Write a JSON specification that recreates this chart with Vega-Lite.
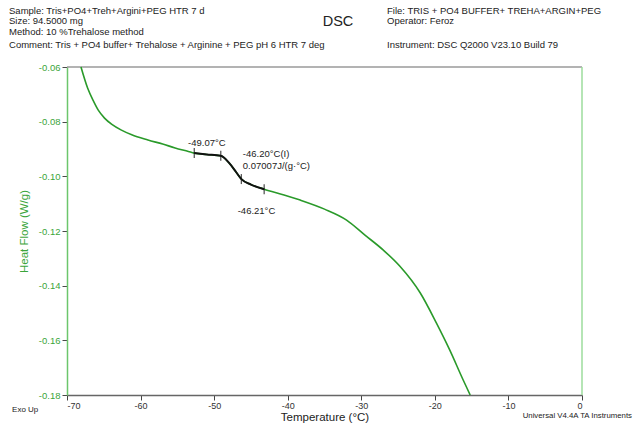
{
  "$schema": "https://vega.github.io/schema/vega-lite/v6.json",
  "width": 515,
  "height": 328,
  "autosize": {"type": "none"},
  "padding": {"left": 67, "top": 67, "right": 51, "bottom": 29},
  "background": "white",
  "config": {
    "view": {"stroke": null},
    "font": "Liberation Sans",
    "axis": {"labelFont": "Liberation Sans", "titleFont": "Liberation Sans", "grid": false}
  },
  "datasets": {
    "curve": [
      {"T": -68.1, "HF": -0.0600},
      {"T": -67.2, "HF": -0.0677},
      {"T": -66.4, "HF": -0.0725},
      {"T": -65.75, "HF": -0.0758},
      {"T": -64.9, "HF": -0.0787},
      {"T": -63.9, "HF": -0.0810},
      {"T": -62.6, "HF": -0.0831},
      {"T": -61.2, "HF": -0.0848},
      {"T": -59.0, "HF": -0.0867},
      {"T": -57.0, "HF": -0.0882},
      {"T": -55.3, "HF": -0.0896},
      {"T": -53.5, "HF": -0.0909},
      {"T": -52.7, "HF": -0.0915},
      {"T": -51.0, "HF": -0.0920},
      {"T": -49.1, "HF": -0.0925},
      {"T": -48.0, "HF": -0.0950},
      {"T": -47.0, "HF": -0.0985},
      {"T": -46.3, "HF": -0.1010},
      {"T": -45.0, "HF": -0.1030},
      {"T": -43.2, "HF": -0.1047},
      {"T": -40.5, "HF": -0.1068},
      {"T": -38.3, "HF": -0.1087},
      {"T": -35.0, "HF": -0.1120},
      {"T": -32.0, "HF": -0.1160},
      {"T": -29.5, "HF": -0.1215},
      {"T": -27.0, "HF": -0.1270},
      {"T": -24.75, "HF": -0.1329},
      {"T": -22.0, "HF": -0.1426},
      {"T": -19.8, "HF": -0.1536},
      {"T": -18.0, "HF": -0.1634},
      {"T": -16.15, "HF": -0.1745},
      {"T": -15.2, "HF": -0.1800}
    ],
    "marks": [
      {"T": -52.7, "HF": -0.0915},
      {"T": -49.1, "HF": -0.0925},
      {"T": -46.3, "HF": -0.1010},
      {"T": -43.2, "HF": -0.1047}
    ],
    "notes": [
      {"T": -53.55, "HF": -0.0878, "label": "-49.07°C"},
      {"T": -46.1, "HF": -0.0920, "label": "-46.20°C(I)"},
      {"T": -46.1, "HF": -0.0962, "label": "0.07007J/(g·°C)"},
      {"T": -46.8, "HF": -0.1125, "label": "-46.21°C"}
    ],
    "headerLeft": [
      {"T": -77.88, "HF": -0.03951, "label": "Sample: Tris+PO4+Treh+Argini+PEG HTR 7 d"},
      {"T": -77.88, "HF": -0.04317, "label": "Size:  94.5000 mg"},
      {"T": -77.88, "HF": -0.04720, "label": "Method: 10 %Trehalose method"},
      {"T": -77.88, "HF": -0.05195, "label": "Comment: Tris + PO4 buffer+ Trehalose + Arginine + PEG pH 6 HTR 7 deg"},
      {"T": -26.5, "HF": -0.03951, "label": "File: TRIS + PO4 BUFFER+ TREHA+ARGIN+PEG"},
      {"T": -26.5, "HF": -0.04317, "label": "Operator: Feroz"},
      {"T": -26.5, "HF": -0.05195, "label": "Instrument: DSC Q2000 V23.10 Build 79"}
    ],
    "exo": [
      {"T": -77.47, "HF": -0.18549, "label": "Exo Up"}
    ],
    "headerTitle": [
      {"T": -33.16, "HF": -0.04354, "label": "DSC"}
    ],
    "footerRight": [
      {"T": 6.8, "HF": -0.18768, "label": "Universal V4.4A TA Instruments"}
    ]
  },
  "encoding": {
    "x": {
      "field": "T", "type": "quantitative",
      "scale": {"domain": [-70, 0], "nice": false, "zero": false}
    },
    "y": {
      "field": "HF", "type": "quantitative",
      "scale": {"domain": [-0.18, -0.06], "nice": false, "zero": false}
    }
  },
  "layer": [
    {
      "data": {"values": [{"v": -0.06}]},
      "mark": {"type": "rule", "color": "#9a9a9a", "strokeWidth": 1.5},
      "encoding": {"y": {"field": "v", "type": "quantitative"}, "x": null}
    },
    {
      "data": {"values": [{"v": 0}]},
      "mark": {"type": "rule", "color": "#9ddc9d", "strokeWidth": 1.5},
      "encoding": {"x": {"field": "v", "type": "quantitative"}, "y": null}
    },
    {
      "data": {"name": "curve"},
      "mark": {"type": "line", "color": "#2a9a2a", "strokeWidth": 1.6, "interpolate": "monotone"},
      "encoding": {
        "x": {
          "field": "T", "type": "quantitative",
          "axis": {
            "title": "Temperature (°C)",
            "titleFontSize": 11.5, "titleFontWeight": "normal", "titleColor": "#222",
            "titlePadding": 1,
            "values": [-70, -67.5, -65, -62.5, -60, -57.5, -55, -52.5, -50, -47.5, -45, -42.5, -40, -37.5, -35, -32.5, -30, -27.5, -25, -22.5, -20, -17.5, -15, -12.5, -10, -7.5, -5, -2.5, 0],
            "labelExpr": "datum.value % 10 === 0 ? '' + datum.value : ''",
            "labelFontSize": 9, "labelColor": "#333",
            "labelPadding": 1,
            "domainColor": "#666", "domainWidth": 1.5,
            "tickColor": "#444",
            "tickSize": {"condition": {"test": "datum.value % 10 === 0", "value": 5}, "value": 3}
          }
        },
        "y": {
          "field": "HF", "type": "quantitative",
          "axis": {
            "title": "Heat Flow (W/g)",
            "titleFontSize": 11.5, "titleFontWeight": "normal", "titleColor": "#3aa53a",
            "titlePadding": 9,
            "values": [-0.18, -0.175, -0.17, -0.165, -0.16, -0.155, -0.15, -0.145, -0.14, -0.135, -0.13, -0.125, -0.12, -0.115, -0.11, -0.105, -0.1, -0.095, -0.09, -0.085, -0.08, -0.075, -0.07, -0.065, -0.06],
            "labelExpr": "abs(datum.value * 50 - round(datum.value * 50)) < 0.001 ? '-' + format(abs(datum.value), '.2f') : ''",
            "labelFontSize": 9.5, "labelColor": "#3aa53a",
            "labelPadding": 2,
            "domainColor": "#6cc66c", "domainWidth": 1.5,
            "tickColor": "#4a4a4a",
            "tickSize": {"condition": {"test": "abs(datum.value * 50 - round(datum.value * 50)) < 0.001", "value": 5}, "value": 3}
          }
        }
      }
    },
    {
      "data": {"name": "curve"},
      "transform": [{"filter": "datum.T >= -52.7 && datum.T <= -43.2"}],
      "mark": {"type": "line", "color": "#111", "strokeWidth": 2, "interpolate": "monotone"},
      "encoding": {}
    },
    {
      "data": {"name": "marks"},
      "mark": {"type": "tick", "orient": "vertical", "color": "#111", "size": 10, "thickness": 1.3},
      "encoding": {}
    },
    {
      "data": {"name": "notes"},
      "mark": {"type": "text", "align": "left", "baseline": "middle", "fontSize": 9.5, "color": "#222"},
      "encoding": {"text": {"field": "label"}}
    },
    {
      "data": {"name": "headerLeft"},
      "mark": {"type": "text", "align": "left", "baseline": "middle", "fontSize": 9.5, "color": "#222"},
      "encoding": {"text": {"field": "label"}}
    },
    {
      "data": {"name": "exo"},
      "mark": {"type": "text", "align": "left", "baseline": "middle", "fontSize": 8, "color": "#222"},
      "encoding": {"text": {"field": "label"}}
    },
    {
      "data": {"name": "headerTitle"},
      "mark": {"type": "text", "align": "center", "baseline": "middle", "fontSize": 14.5, "color": "#222"},
      "encoding": {"text": {"field": "label"}}
    },
    {
      "data": {"name": "footerRight"},
      "mark": {"type": "text", "align": "right", "baseline": "middle", "fontSize": 7.8, "color": "#222"},
      "encoding": {"text": {"field": "label"}}
    }
  ]
}
